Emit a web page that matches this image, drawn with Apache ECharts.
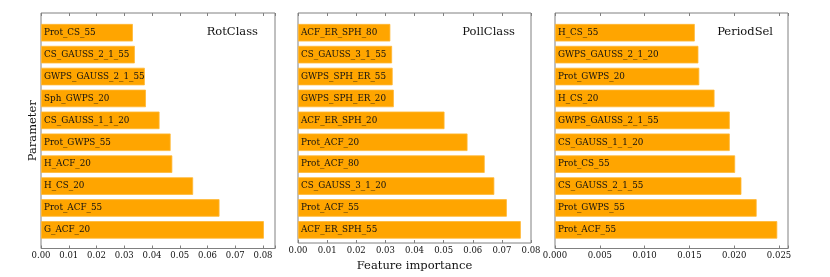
<!DOCTYPE html>
<html><head><meta charset="utf-8">
<script src="https://cdn.jsdelivr.net/npm/echarts@6/dist/echarts.min.js"></script>
<style>html,body{margin:0;padding:0;background:#fff}#c{width:830px;height:277px}</style>
</head><body><div id="c"></div>
<script>
// Data (listed top to bottom as drawn)
const rotCats = ['Prot_CS_55','CS_GAUSS_2_1_55','GWPS_GAUSS_2_1_55','Sph_GWPS_20','CS_GAUSS_1_1_20','Prot_GWPS_55','H_ACF_20','H_CS_20','Prot_ACF_55','G_ACF_20'];
const rotVals = [0.0331,0.0338,0.0374,0.0378,0.0427,0.0467,0.0473,0.0548,0.0643,0.0803];
const pollCats = ['ACF_ER_SPH_80','CS_GAUSS_3_1_55','GWPS_SPH_ER_55','GWPS_SPH_ER_20','ACF_ER_SPH_20','Prot_ACF_20','Prot_ACF_80','CS_GAUSS_3_1_20','Prot_ACF_55','ACF_ER_SPH_55'];
const pollVals = [0.0317,0.0323,0.0325,0.0329,0.0503,0.0582,0.0641,0.0674,0.0717,0.0765];
const perCats = ['H_CS_55','GWPS_GAUSS_2_1_20','Prot_GWPS_20','H_CS_20','GWPS_GAUSS_2_1_55','CS_GAUSS_1_1_20','Prot_CS_55','CS_GAUSS_2_1_55','Prot_GWPS_55','Prot_ACF_55'];
const perVals = [0.0156,0.0160,0.0161,0.0178,0.0195,0.0195,0.0201,0.0208,0.0225,0.0248];
const titles = ['RotClass','PollClass','PeriodSel'];
const xMax = [0.0843, 0.08, 0.026];
const xInterval = [0.01, 0.01, 0.005];
const xDecimals = [2, 2, 3];

const FONT = 'DejaVu Serif';
const panels = [
  {cats: rotCats, vals: rotVals, left: 41, width: 234},
  {cats: pollCats, vals: pollVals, left: 298, width: 233},
  {cats: perCats, vals: perVals, left: 555, width: 233}
];
const boxTop = 13, boxBottom = 248.5;
const pitch = (boxBottom - boxTop) / 10.75;
const barTop = boxTop + 0.4 * pitch, barBottom = boxBottom - 0.35 * pitch;

const grid = [], xAxis = [], yAxis = [], series = [], title = [];
panels.forEach((p, i) => {
  // frame grid
  grid.push({left: p.left, width: p.width, top: boxTop, height: boxBottom - boxTop,
    show: true, borderColor: '#808080', borderWidth: 1, backgroundColor: 'transparent'});
  // bar grid
  grid.push({left: p.left, width: p.width, top: barTop, height: barBottom - barTop});
  const gA = 2 * i, gB = 2 * i + 1;
  const fmt = v => {
    const r = v / xInterval[i];
    if (Math.abs(r - Math.round(r)) > 1e-6) return '';
    return v.toFixed(xDecimals[i]);
  };
  xAxis.push({gridIndex: gA, type: 'value', min: 0, max: xMax[i], interval: xInterval[i], position: 'bottom',
    axisLine: {show: false}, splitLine: {show: false},
    axisTick: {inside: true, length: 3, lineStyle: {color: '#808080'}},
    axisLabel: {formatter: fmt, fontFamily: FONT, fontSize: 8.5, color: '#111', margin: 3, showMaxLabel: true},
    name: i === 1 ? 'Feature importance' : '', nameLocation: 'middle', nameGap: 17,
    nameTextStyle: {fontFamily: FONT, fontSize: 11.5, color: '#111'}});
  xAxis.push({gridIndex: gA, type: 'value', min: 0, max: xMax[i], interval: xInterval[i], position: 'top',
    axisLine: {show: false}, splitLine: {show: false}, axisLabel: {show: false},
    axisTick: {inside: true, length: 3, lineStyle: {color: '#808080'}}});
  xAxis.push({gridIndex: gB, type: 'value', min: 0, max: xMax[i], show: false});
  yAxis.push({gridIndex: gA, type: 'value', show: i === 0, axisLine: {show: false}, axisTick: {show: false},
    axisLabel: {show: false}, splitLine: {show: false},
    name: i === 0 ? 'Parameter' : '', nameLocation: 'middle', nameGap: 2, nameRotate: 90,
    nameTextStyle: {fontFamily: FONT, fontSize: 11.5, color: '#111'}});
  yAxis.push({gridIndex: gB, type: 'category', data: p.cats, inverse: true, position: 'right',
    axisLine: {show: false}, axisLabel: {show: false}, splitLine: {show: false},
    axisTick: {inside: true, length: 3, alignWithLabel: true, lineStyle: {color: '#808080'}}});
  series.push({type: 'bar', xAxisIndex: 3 * i + 2, yAxisIndex: 2 * i + 1, data: p.vals,
    barCategoryGap: '20%',
    itemStyle: {color: '#FFA500', borderColor: '#FFB733', borderWidth: 0.8},
    label: {show: true, position: 'insideLeft', distance: 3, formatter: (d) => p.cats[d.dataIndex],
      fontFamily: FONT, fontSize: 8.8, color: '#111'},
    silent: true, animation: false});
});
const tStyle = {fontFamily: FONT, fontSize: 11.5, fontWeight: 'normal', color: '#111'};
title.push({text: titles[0], right: 830 - 263, top: 21, textStyle: tStyle});
title.push({text: titles[1], right: 830 - 520, top: 21, textStyle: tStyle});
title.push({text: titles[2], right: 830 - 778, top: 21, textStyle: tStyle});

const chart = echarts.init(document.getElementById('c'), null, {renderer: 'canvas'});
chart.setOption({animation: false, title, grid, xAxis, yAxis, series});
</script></body></html>
